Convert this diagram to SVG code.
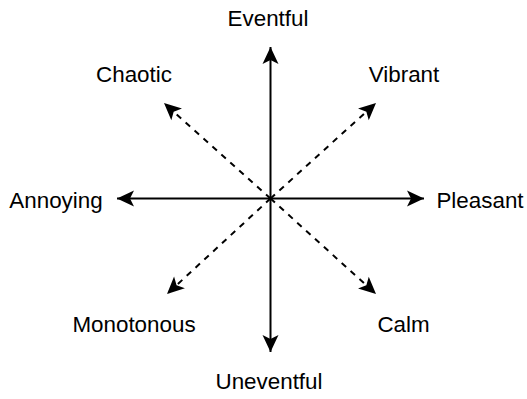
<svg xmlns="http://www.w3.org/2000/svg" width="527" height="399" viewBox="0 0 527 399">
<style>
.lbl{font-family:"Liberation Sans",Arial,sans-serif;font-size:22.4px;fill:#000;text-anchor:middle}
.ax{stroke:#000;stroke-width:2;fill:none}
.dash{stroke-dasharray:6 6}
</style>
<defs>
<marker id="arr" markerUnits="userSpaceOnUse" markerWidth="24" markerHeight="24" viewBox="-20 -12 24 24" refX="0" refY="0" orient="auto">
<path d="M0,0 L-17,-8 L-13,0 L-17,8 Z" fill="#000"/>
</marker>
</defs>
<rect width="527" height="399" fill="#fff"/>
<g id="connectors">
<line class="ax" x1="270.5" y1="198.5" x2="270.5" y2="47" marker-end="url(#arr)"/>
<line class="ax" x1="270.5" y1="198.5" x2="270.5" y2="352" marker-end="url(#arr)"/>
<line class="ax" x1="270.5" y1="198.5" x2="117" y2="198.5" marker-end="url(#arr)"/>
<line class="ax" x1="270.5" y1="198.5" x2="424" y2="198.5" marker-end="url(#arr)"/>
<line class="ax dash" x1="270.5" y1="198.5" x2="164" y2="103" marker-end="url(#arr)"/>
<line class="ax dash" x1="270.5" y1="198.5" x2="376" y2="103" marker-end="url(#arr)"/>
<line class="ax dash" x1="270.5" y1="198.5" x2="167" y2="294" marker-end="url(#arr)"/>
<line class="ax dash" x1="270.5" y1="198.5" x2="376" y2="294" marker-end="url(#arr)"/>
</g>
<g id="eventful"><text class="lbl" x="268" y="26">Eventful</text></g>
<g id="uneventful"><text class="lbl" x="269" y="389">Uneventful</text></g>
<g id="annoying"><text class="lbl" x="56" y="208">Annoying</text></g>
<g id="pleasant"><text class="lbl" x="480" y="208">Pleasant</text></g>
<g id="chaotic"><text class="lbl" x="134" y="82">Chaotic</text></g>
<g id="vibrant"><text class="lbl" x="404" y="82">Vibrant</text></g>
<g id="monotonous"><text class="lbl" x="134" y="332">Monotonous</text></g>
<g id="calm"><text class="lbl" x="403.5" y="332">Calm</text></g>
</svg>
